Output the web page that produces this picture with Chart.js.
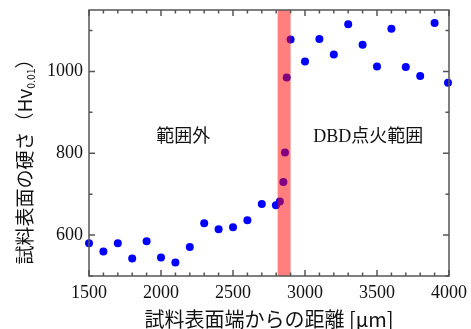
<!DOCTYPE html>
<html>
<head>
<meta charset="utf-8">
<script src="https://cdn.jsdelivr.net/npm/chart.js@4"></script>
<style>
  html, body { margin: 0; padding: 0; background: #fff; }
  canvas { display: block; }
</style>
</head>
<body>
<canvas id="chart-hardness" width="471" height="329"></canvas>
<script>
'use strict';

// ── Data ─────────────────────────────────────────────────────
const DISTANCE = [1500, 1600, 1700, 1800, 1900, 2000, 2100, 2200, 2300, 2400,
                  2500, 2600, 2700, 2798, 2825, 2850, 2861, 2873, 2900, 3000,
                  3100, 3200, 3300, 3400, 3500, 3600, 3700, 3800, 3900, 3993];
const HARDNESS = [580, 560, 580, 543, 585, 545, 533, 571, 629, 614,
                  619, 636, 676, 673, 682, 730, 802, 985, 1078, 1024,
                  1079, 1041, 1115, 1065, 1012, 1104, 1011, 989, 1118, 972];

const X_TICKS     = [1500, 2000, 2500, 3000, 3500, 4000];
const Y_TICKS     = [600, 800, 1000];
const X_RANGE     = [1500, 4000];
const Y_RANGE     = [500, 1150];
const IGNITION    = [2810, 2900];            // DBD ignition band (µm)
const LABELS      = ['範囲外', 'DBD点火範囲'];
const LABEL_AT    = [[2155, 840], [3440, 840]];

const SERIF = "'Liberation Serif', 'Noto Sans CJK JP', serif";
const GOTHIC = "'Noto Sans CJK JP', sans-serif";
const FRAME = '#555';

// ── Plugin: band, labels, frame, inner ticks, y title ────────
const decorations = {
  id: 'decorations',
  afterDatasetsDraw(chart) {
    const { ctx, chartArea: a, scales: { x, y } } = chart;
    ctx.save();
    // translucent red band sits over the points (they turn purple)
    const x0 = x.getPixelForValue(IGNITION[0]);
    const x1 = x.getPixelForValue(IGNITION[1]);
    ctx.fillStyle = 'rgba(255, 0, 0, 0.5)';
    ctx.fillRect(x0, a.top, x1 - x0, a.bottom - a.top);

    ctx.fillStyle = '#111';
    ctx.font = '18px ' + SERIF;
    ctx.textAlign = 'center';
    ctx.textBaseline = 'middle';
    LABELS.forEach((t, i) => {
      ctx.fillText(t, x.getPixelForValue(LABEL_AT[i][0]), y.getPixelForValue(LABEL_AT[i][1]));
    });
    ctx.restore();
  },
  afterDraw(chart) {
    const { ctx, chartArea: a, scales: { x, y } } = chart;
    ctx.save();
    ctx.strokeStyle = FRAME;
    ctx.lineWidth = 1.5;
    ctx.strokeRect(a.left, a.top, a.right - a.left, a.bottom - a.top);

    ctx.beginPath();
    for (let v = X_RANGE[0]; v <= X_RANGE[1]; v += 100) {
      const px = x.getPixelForValue(v);
      const len = v % 500 === 0 ? 6 : 3.5;
      ctx.moveTo(px, a.bottom); ctx.lineTo(px, a.bottom - len);
      ctx.moveTo(px, a.top);    ctx.lineTo(px, a.top + len);
    }
    for (let v = Y_RANGE[0]; v <= Y_RANGE[1]; v += 100) {
      const py = y.getPixelForValue(v);
      const len = Y_TICKS.includes(v) ? 6 : 3.5;
      ctx.moveTo(a.left, py);  ctx.lineTo(a.left + len, py);
      ctx.moveTo(a.right, py); ctx.lineTo(a.right - len, py);
    }
    ctx.stroke();

    // y title with subscript, drawn rotated
    const main = '試料表面の硬さ（Hv', sub = '0.01', close = '）';
    ctx.fillStyle = '#111';
    ctx.textBaseline = 'middle';
    ctx.textAlign = 'left';
    ctx.font = '19px ' + GOTHIC;
    const wMain = ctx.measureText(main).width;
    const wClose = ctx.measureText(close).width;
    ctx.font = '10.5px ' + GOTHIC;
    const wSub = ctx.measureText(sub).width;
    const total = wMain + wSub + wClose;
    ctx.translate(25, 157);
    ctx.rotate(-Math.PI / 2);
    let cx = -total / 2;
    ctx.font = '19px ' + GOTHIC;
    ctx.fillText(main, cx, 0);
    cx += wMain;
    ctx.font = '10.5px ' + GOTHIC;
    ctx.fillText(sub, cx, 6);
    cx += wSub;
    ctx.font = '19px ' + GOTHIC;
    ctx.fillText(close, cx, 0);
    ctx.restore();
  }
};

// ── Chart ────────────────────────────────────────────────────
const ctx = document.getElementById('chart-hardness').getContext('2d');

new Chart(ctx, {
  type: 'scatter',
  data: {
    datasets: [{
      data: DISTANCE.map((d, i) => ({ x: d, y: HARDNESS[i] })),
      backgroundColor: '#0000ff',
      borderWidth: 0,
      pointRadius: 4,
      clip: 4
    }]
  },
  options: {
    responsive: false,
    devicePixelRatio: 1,
    animation: false,
    layout: { padding: { left: 0, top: 10, right: 22, bottom: 0 } },
    plugins: { legend: { display: false }, tooltip: { enabled: false } },
    scales: {
      x: {
        type: 'linear',
        min: X_RANGE[0],
        max: X_RANGE[1],
        afterBuildTicks: s => { s.ticks = X_TICKS.map(v => ({ value: v })); },
        afterFit: s => { s.height = 53; s.paddingLeft = 0; s.paddingRight = 0; },
        grid: { display: false, drawTicks: false },
        border: { display: false },
        ticks: {
          color: '#111', padding: 6, maxRotation: 0,
          font: { family: SERIF, size: 18 },
          callback: v => String(v)
        },
        title: {
          display: true,
          text: '試料表面端からの距離 [μm]',
          color: '#111',
          padding: { top: 0, bottom: 0 },
          font: { family: GOTHIC, size: 20, lineHeight: 1 }
        }
      },
      y: {
        type: 'linear',
        min: Y_RANGE[0],
        max: Y_RANGE[1],
        afterBuildTicks: s => { s.ticks = Y_TICKS.map(v => ({ value: v })); },
        afterFit: s => { s.width = 89; s.paddingTop = 0; s.paddingBottom = 0; },
        grid: { display: false, drawTicks: false },
        border: { display: false },
        ticks: {
          color: '#111', padding: 6,
          font: { family: SERIF, size: 18 },
          callback: v => String(v)
        }
      }
    }
  },
  plugins: [decorations]
});
</script>
</body>
</html>
